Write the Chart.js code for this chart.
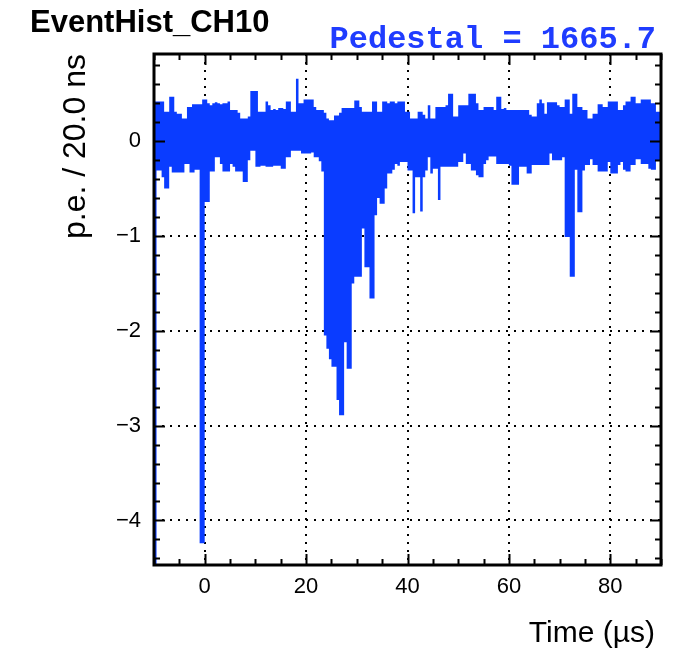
<!DOCTYPE html>
<html>
<head>
<meta charset="utf-8">
<title>EventHist_CH10</title>
<script src="https://cdn.jsdelivr.net/npm/chart.js@4.4.0/dist/chart.umd.min.js"></script>
<style>
  html, body { margin: 0; padding: 0; background: #fff; }
  canvas { display: block; }
</style>
</head>
<body>
<canvas id="hist" width="692" height="661"></canvas>
<script>
/* ===========================
   DATA
=========================== */
// bins of 0.5 us from -10 to 90 us, envelope (low / high) of the 20 ns bins inside each
const binLow   = -10;
const binWidth = 0.5;

const hiVals = [
  0.42,0.42,0.42,0.42,0.31,0.31,0.47,0.47,0.31,0.29, 0.29,0.24,0.24,0.36,0.36,0.39,0.39,0.39,0.39,0.44,
  0.44,0.40,0.38,0.40,0.41,0.40,0.39,0.40,0.40,0.42, 0.33,0.33,0.33,0.30,0.24,0.24,0.24,0.26,0.53,0.53,
  0.53,0.31,0.31,0.31,0.42,0.38,0.33,0.34,0.33,0.35, 0.35,0.34,0.42,0.42,0.31,0.31,0.66,0.40,0.40,0.44,
  0.44,0.44,0.44,0.36,0.33,0.33,0.33,0.30,0.24,0.22, 0.22,0.27,0.27,0.30,0.35,0.35,0.35,0.35,0.35,0.43,
  0.43,0.36,0.31,0.31,0.31,0.31,0.42,0.42,0.31,0.31, 0.42,0.42,0.40,0.42,0.42,0.40,0.42,0.42,0.42,0.31,
  0.31,0.24,0.24,0.24,0.31,0.31,0.28,0.24,0.38,0.24, 0.24,0.36,0.36,0.36,0.36,0.38,0.50,0.50,0.26,0.26,
  0.38,0.38,0.38,0.38,0.50,0.50,0.50,0.40,0.33,0.33, 0.36,0.36,0.36,0.36,0.33,0.47,0.47,0.34,0.35,0.33,
  0.33,0.33,0.33,0.33,0.33,0.33,0.33,0.33,0.28,0.26, 0.26,0.40,0.44,0.40,0.29,0.41,0.41,0.41,0.41,0.38,
  0.36,0.36,0.44,0.44,0.29,0.50,0.50,0.36,0.36,0.33, 0.33,0.24,0.24,0.29,0.29,0.39,0.39,0.36,0.36,0.42,
  0.42,0.42,0.42,0.33,0.33,0.38,0.42,0.42,0.47,0.47, 0.40,0.40,0.44,0.44,0.44,0.44,0.40,0.40,0.31,0.31
];

const loVals = [
  -4.50,-0.31,-0.31,-0.38,-0.50,-0.50,-0.27,-0.33,-0.33,-0.33, -0.33,-0.33,-0.24,-0.24,-0.33,-0.33,-0.30,-0.30,-4.24,-4.24,
  -0.64,-0.64,-0.32,-0.32,-0.17,-0.17,-0.24,-0.32,-0.32,-0.32, -0.24,-0.27,-0.32,-0.32,-0.32,-0.43,-0.43,-0.20,-0.10,-0.10,
  -0.27,-0.27,-0.26,-0.26,-0.27,-0.27,-0.27,-0.26,-0.26,-0.26, -0.29,-0.29,-0.17,-0.17,-0.10,-0.10,-0.10,-0.10,-0.13,-0.13,
  -0.13,-0.13,-0.12,-0.17,-0.17,-0.21,-0.32,-2.05,-2.19,-2.30, -2.38,-2.38,-2.73,-2.89,-2.89,-2.12,-2.40,-2.40,-1.50,-1.43,
  -1.43,-1.43,-0.92,-1.33,-1.33,-1.66,-1.66,-0.78,-0.60,-0.66, -0.66,-0.50,-0.34,-0.34,-0.30,-0.24,-0.26,-0.22,-0.22,-0.22,
  -0.31,-0.31,-0.76,-0.38,-0.38,-0.74,-0.38,-0.31,-0.17,-0.34, -0.29,-0.29,-0.62,-0.27,-0.27,-0.27,-0.27,-0.27,-0.27,-0.27,
  -0.22,-0.22,-0.13,-0.24,-0.24,-0.31,-0.31,-0.36,-0.38,-0.38, -0.24,-0.20,-0.16,-0.16,-0.16,-0.24,-0.24,-0.24,-0.24,-0.24,
  -0.26,-0.46,-0.46,-0.46,-0.27,-0.27,-0.27,-0.34,-0.34,-0.25, -0.25,-0.25,-0.25,-0.25,-0.25,-0.25,-0.13,-0.20,-0.20,-0.20,
  -0.20,-0.17,-1.01,-1.01,-1.43,-1.43,-0.30,-0.75,-0.75,-0.31, -0.25,-0.25,-0.19,-0.25,-0.25,-0.32,-0.32,-0.32,-0.32,-0.22,
  -0.34,-0.34,-0.34,-0.25,-0.22,-0.30,-0.32,-0.32,-0.25,-0.25, -0.19,-0.19,-0.24,-0.24,-0.24,-0.29,-0.30,-0.30,-0.20,-0.20
];

const xTicks = [0, 20, 40, 60, 80];
const yTicks = [-4, -3, -2, -1, 0];
const xRange = [-10, 90];
const yRange = [-4.47, 0.92];

const titleText    = "EventHist_CH10";
const pedestalText = "Pedestal = 1665.7";
const xTitle       = "Time (\u00b5s)";
const yTitle       = "p.e. / 20.0 ns";

/* ===========================
   STYLE
=========================== */
const histBlue = "#0a3cff";
const sans     = "'Liberation Sans', Arial, Helvetica, sans-serif";
const mono     = "'Liberation Mono', 'Courier New', monospace";

/* ===========================
   STEP OUTLINE (value i holds from bin edge i to edge i+1)
=========================== */
const edges = hiVals.map((_, i) => binLow + binWidth * i).concat(binLow + binWidth * hiVals.length);
const stepPoints = vals => edges.map((x, i) => ({ x, y: vals[Math.min(i, vals.length - 1)] }));

/* ===========================
   ROOT-LIKE FRAME (inward ticks on all sides) + texts
=========================== */
const rootFrame = {
  id: "rootFrame",
  afterDatasetsDraw(chart) {
    const { ctx, chartArea: a, scales: { x, y } } = chart;
    ctx.save();
    ctx.strokeStyle = "#000";
    ctx.lineWidth = 2;
    ctx.beginPath();
    for (let v = xRange[0]; v <= xRange[1]; v += 5) {
      const px = Math.round(x.getPixelForValue(v)) + 0.5;
      const len = v % 20 === 0 ? 11 : 6;
      ctx.moveTo(px, a.bottom); ctx.lineTo(px, a.bottom - len);
      ctx.moveTo(px, a.top);    ctx.lineTo(px, a.top + len);
    }
    for (let k = -22; k <= 4; k++) {
      const v = k * 0.2;
      if (v < yRange[0] || v > yRange[1]) continue;
      const py = Math.round(y.getPixelForValue(v)) + 0.5;
      const len = k % 5 === 0 ? 11 : 6;
      ctx.moveTo(a.left, py);  ctx.lineTo(a.left + len, py);
      ctx.moveTo(a.right, py); ctx.lineTo(a.right - len, py);
    }
    ctx.stroke();
    ctx.lineWidth = 3;
    ctx.strokeRect(a.left, a.top, a.right - a.left, a.bottom - a.top);
    ctx.restore();
  },
  afterDraw(chart) {
    const { ctx } = chart;
    ctx.save();
    ctx.fillStyle = "#000";
    ctx.textBaseline = "alphabetic";
    ctx.textAlign = "left";
    ctx.font = "bold 31px " + sans;
    ctx.fillText(titleText, 30, 32);
    ctx.textAlign = "right";
    ctx.font = "30px " + sans;
    ctx.fillText(xTitle, 655, 642);
    ctx.fillStyle = "#1f3cff";
    ctx.font = "bold 32px " + mono;
    ctx.fillText(pedestalText, 656, 48);
    ctx.restore();
  }
};

const minus = v => v < 0 ? "\u2212" + Math.abs(v) : String(v);

/* ===========================
   HISTOGRAM (filled between high and low envelopes)
=========================== */
new Chart(document.getElementById("hist"), {
  type: "line",
  data: {
    datasets: [
      {
        label: "high",
        data: stepPoints(hiVals),
        stepped: "before",
        borderWidth: 0,
        pointRadius: 0,
        backgroundColor: histBlue,
        fill: "+1"
      },
      {
        label: "low",
        data: stepPoints(loVals),
        stepped: "before",
        borderWidth: 0,
        pointRadius: 0,
        backgroundColor: histBlue,
        fill: false
      }
    ]
  },
  options: {
    responsive: false,
    animation: false,
    layout: { padding: { top: 54, right: 31, bottom: 0, left: 0 } },
    plugins: { legend: { display: false }, tooltip: { enabled: false } },
    scales: {
      x: {
        type: "linear",
        min: xRange[0],
        max: xRange[1],
        afterBuildTicks: s => { s.ticks = xTicks.map(v => ({ value: v })); },
        afterFit: s => { s.height = 96; },
        grid: { color: "#000", lineWidth: 2, drawTicks: false },
        border: { display: false, dash: [2, 6] },
        ticks: { color: "#000", padding: 9, font: { family: sans, size: 22 }, maxRotation: 0 }
      },
      y: {
        min: yRange[0],
        max: yRange[1],
        afterBuildTicks: s => { s.ticks = yTicks.map(v => ({ value: v })); },
        afterFit: s => { s.width = 154; },
        grid: { color: "#000", lineWidth: 2, drawTicks: false },
        border: { display: false, dash: [2, 6] },
        ticks: { color: "#000", padding: 13, font: { family: sans, size: 22 }, callback: minus },
        title: { display: true, text: yTitle, align: "end", color: "#000",
                 font: { family: sans, size: 32 }, padding: { top: 57, bottom: 0 } }
      }
    }
  },
  plugins: [rootFrame]
});
</script>
</body>
</html>
